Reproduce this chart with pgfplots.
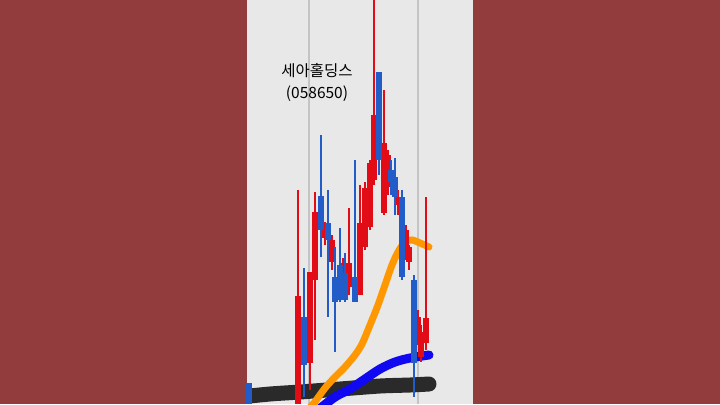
\documentclass[border=0pt]{standalone}
\usepackage{fontspec}
\newfontfamily\kr{Noto Sans CJK KR}
\usepackage{pgfplots}
\pgfplotsset{compat=1.18}
\usepackage{pgfplotstable}

\definecolor{bgred}{RGB}{147,60,62}
\definecolor{panel}{RGB}{232,232,232}
\definecolor{gridc}{RGB}{196,196,196}
\definecolor{cred}{RGB}{226,12,22}
\definecolor{cblue}{RGB}{34,92,200}
\definecolor{mablue}{RGB}{16,8,240}
\definecolor{maorange}{RGB}{255,152,0}
\definecolor{madark}{RGB}{42,42,42}

% candles in pixel rows: x, wick top/bottom, body top/bottom
\pgfplotstableread{
x   wt  wb  bt  bb
298 190 404 296 404
310 272 390 272 363
315 192 340 212 280
325 222 245 228 238
332 235 270 240 262
343 258 285 263 277
349 208 295 263 287
360 185 295 223 295
365 182 250 188 247
370 160 230 163 227
374 0   185 115 180
384 90  215 143 213
388 150 195 155 187
398 190 215 197 205
406 225 260 230 250
409 245 270 247 262
418 310 345 317 340
421 325 362 332 357
426 197 350 318 343
}\redc

\pgfplotstableread{
x   wt  wb  bt  bb
249 383 404 383 404
304 268 397 317 365
321 135 257 196 230
328 190 317 223 240
335 247 352 277 302
340 228 302 265 300
345 253 302 273 300
355 160 302 277 302
379 72  175 72  160
391 160 195 170 182
395 158 215 177 197
402 190 280 197 277
414 275 397 280 363
}\bluec

\pgfplotsset{candle/.style={only marks, mark options={opacity=0}, forget plot,
  error bars/.cd, y dir=both, y explicit, error mark=none}}

\begin{document}
\begin{tikzpicture}
\begin{axis}[scale only axis, width=720bp, height=404bp,
  xmin=0, xmax=720, ymin=0, ymax=404, y dir=reverse,
  hide axis, clip=true]
\fill[bgred] (0,0) rectangle (720,404);
\fill[panel] (247,0) rectangle (473,404);
\draw[gridc, line width=1.5bp] (309,0) -- (309,404);
\draw[gridc, line width=1.5bp] (418,0) -- (418,404);

% moving averages
\begin{scope}
\clip (247,0) rectangle (473,404);
\addplot[madark, line width=15bp, line cap=round, smooth] coordinates {
(240,397) (270,394) (300,392) (340,389) (380,386) (410,385) (429,384)};
\end{scope}
\addplot[mablue, line width=9bp, line cap=round, smooth] coordinates {
(318,410) (335,397) (350,389) (365,379) (380,369) (395,362) (410,358) (429,355)};
\addplot[maorange, line width=7bp, line cap=round, smooth] coordinates {
(305,412) (314,403) (325,388) (335,377) (345,367) (355,355) (362,344) (370,325) (378,305) (385,285) (392,265) (398,252) (405,242) (412,240) (420,243) (429,247)};

% candles: wicks then bodies
\addplot[candle, error bar style={line width=1.8bp, cred}]
  table[x=x, y expr={(\thisrow{wt}+\thisrow{wb})/2}, y error expr={(\thisrow{wb}-\thisrow{wt})/2}] {\redc};
\addplot[candle, error bar style={line width=6bp, cred}]
  table[x=x, y expr={(\thisrow{bt}+\thisrow{bb})/2}, y error expr={(\thisrow{bb}-\thisrow{bt})/2}] {\redc};
\addplot[candle, error bar style={line width=1.8bp, cblue}]
  table[x=x, y expr={(\thisrow{wt}+\thisrow{wb})/2}, y error expr={(\thisrow{wb}-\thisrow{wt})/2}] {\bluec};
\addplot[candle, error bar style={line width=6bp, cblue}]
  table[x=x, y expr={(\thisrow{bt}+\thisrow{bb})/2}, y error expr={(\thisrow{bb}-\thisrow{bt})/2}] {\bluec};

\node[font=\kr\fontsize{15.5bp}{22bp}\selectfont, align=center, text=black] at (317,82)
  {세아홀딩스\\(058650)};
\end{axis}
\end{tikzpicture}
\end{document}
